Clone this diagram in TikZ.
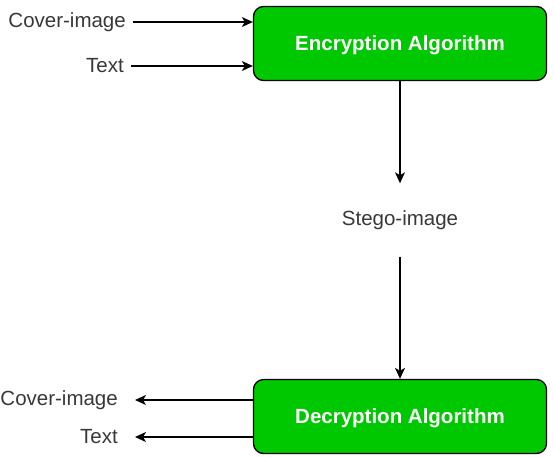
\documentclass[tikz,border=0pt]{standalone}
\usepackage{fontspec}
\setmainfont{Liberation Sans}
\usepackage{tikz}
\usetikzlibrary{arrows.meta,positioning,calc}
\usepackage{xcolor}
\definecolor{boxgreen}{HTML}{00C800}
\definecolor{labelgrey}{HTML}{383838}

\tikzset{
  algbox/.style={draw=black, line width=1.3pt, fill=boxgreen, rounded corners=10pt,
    minimum width=293pt, minimum height=74pt, text=white, text depth=0pt,
    font=\fontsize{20.5}{24}\selectfont\bfseries},
  lbl/.style={text=labelgrey, inner xsep=7pt, inner ysep=0pt,
    font=\fontsize{20.5}{24}\selectfont},
  lblout/.style={lbl, inner xsep=17pt},
  arr/.style={line width=1.3pt, -{Stealth[length=11pt,width=10pt,inset=3pt]}}
}

\begin{document}
\begin{tikzpicture}[x=1pt,y=-1pt]
  \useasboundingbox (0,0) rectangle (554,456);

  % Encryption
  \node[algbox] (enc) at (400,43.5) {Encryption Algorithm};
  \node[lbl, anchor=east] (coverin) at (133,22) {Cover-image};
  \node[lbl, anchor=east] (textin) at (131,66) {Text};
  \draw[arr] (coverin.east) -- (coverin.east -| enc.west);
  \draw[arr] (textin.east) -- (textin.east -| enc.west);

  % Stego-image
  \node[lbl, minimum height=73pt] (stego) at (400,220) {Stego-image};
  \draw[arr] (enc.south) -- (stego.north);

  % Decryption
  \node[algbox] (dec) at (400,416.5) {Decryption Algorithm};
  \draw[arr] (stego.south) -- (dec.north);
  \node[lblout, anchor=east] (coverout) at (135,400) {Cover-image};
  \node[lblout, anchor=east] (textout) at (135,437) {Text};
  \draw[arr] (coverout.east -| dec.west) -- (coverout.east);
  \draw[arr] (textout.east -| dec.west) -- (textout.east);
\end{tikzpicture}
\end{document}
